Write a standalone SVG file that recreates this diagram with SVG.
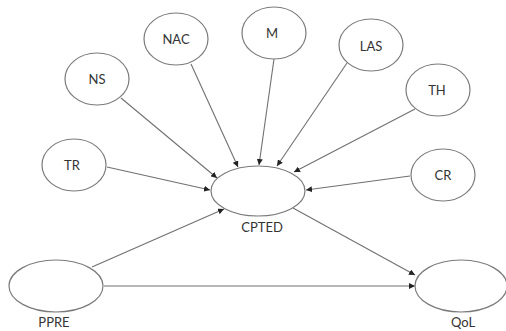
<svg xmlns="http://www.w3.org/2000/svg" width="506" height="331" viewBox="0 0 506 331">
<defs>
<marker id="arr" markerUnits="userSpaceOnUse" markerWidth="7" markerHeight="6" refX="6" refY="3" orient="auto">
<path d="M0,0 L6,3 L0,6 z" fill="#222"/>
</marker>
<style>
.n{fill:#fff;stroke:#7a7a7a;stroke-width:1.2}
.t{font-family:Lato,"Open Sans",sans-serif;font-size:13px;fill:#333;text-anchor:middle}
.e{stroke:#707070;stroke-width:1.1;fill:none;marker-end:url(#arr)}
</style>
</defs>
<rect width="506" height="331" fill="#fff"/>
<g id="connectors">
<line class="e" x1="121" y1="98" x2="217" y2="178"/>
<line class="e" x1="191" y1="64" x2="238" y2="167"/>
<line class="e" x1="274" y1="59" x2="259" y2="165"/>
<line class="e" x1="347" y1="63" x2="277" y2="166"/>
<line class="e" x1="415" y1="109" x2="294" y2="172"/>
<line class="e" x1="107" y1="167" x2="210" y2="190"/>
<line class="e" x1="410" y1="176" x2="306" y2="190"/>
<line class="e" x1="92" y1="267" x2="224" y2="209"/>
<line class="e" x1="104" y1="286" x2="415" y2="286"/>
<line class="e" x1="293" y1="208" x2="415" y2="275"/>
</g>
<g id="NS"><ellipse class="n" cx="97" cy="79" rx="32" ry="26"/><text class="t" x="97" y="84">NS</text></g>
<g id="NAC"><ellipse class="n" cx="176" cy="39" rx="32" ry="26"/><text class="t" x="176" y="44">NAC</text></g>
<g id="M"><ellipse class="n" cx="274" cy="33" rx="32" ry="26"/><text class="t" x="272" y="38">M</text></g>
<g id="LAS"><ellipse class="n" cx="371" cy="45" rx="32" ry="26"/><text class="t" x="371" y="51">LAS</text></g>
<g id="TH"><ellipse class="n" cx="438" cy="90" rx="32" ry="26"/><text class="t" x="437" y="95">TH</text></g>
<g id="TR"><ellipse class="n" cx="74" cy="165" rx="32" ry="26"/><text class="t" x="72" y="170">TR</text></g>
<g id="CR"><ellipse class="n" cx="443" cy="175" rx="32" ry="26"/><text class="t" x="443" y="180">CR</text></g>
<g id="CPTED"><ellipse class="n" cx="258" cy="191" rx="47" ry="25"/><text class="t" x="262" y="232">CPTED</text></g>
<g id="PPRE"><ellipse class="n" cx="56" cy="286" rx="47" ry="26"/><text class="t" x="54" y="327">PPRE</text></g>
<g id="QoL"><ellipse class="n" cx="461" cy="286" rx="46" ry="26"/><text class="t" x="463" y="327">QoL</text></g>
</svg>
